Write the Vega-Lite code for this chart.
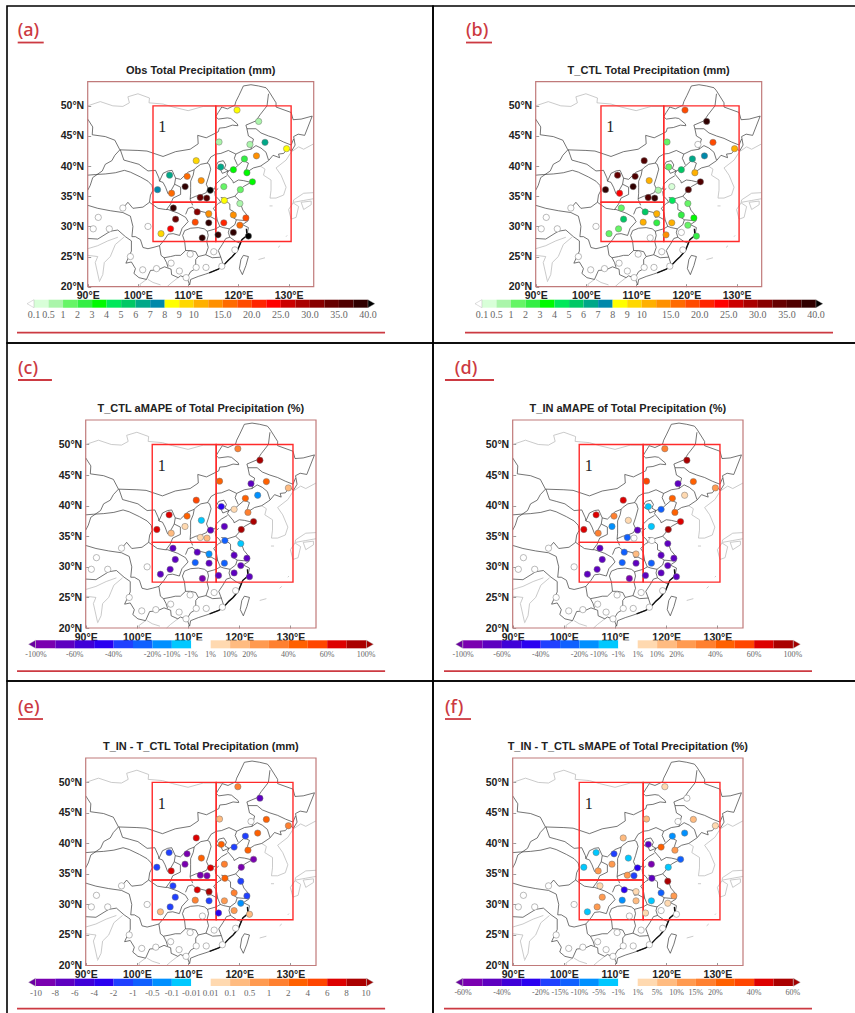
{"$schema":"https://vega.github.io/schema/vega-lite/v6.json","background":"white","padding":{"left":6,"top":5,"right":0,"bottom":0},"bounds":"flush","spacing":0,"columns":2,"resolve":{"scale":{"color":"independent","shape":"independent"}},
"datasets":{
"grey":[
{"g":1,"lon":90,"lat":50},{"g":1,"lon":92.5,"lat":50.7},{"g":1,"lon":95,"lat":50},{"g":1,"lon":97,"lat":49.9},{"g":1,"lon":98.3,"lat":50.5},{"g":1,"lon":98,"lat":51.5},{"g":1,"lon":100,"lat":52},{"g":1,"lon":102.3,"lat":51.3},{"g":1,"lon":102.2,"lat":50.5},{"g":1,"lon":105,"lat":50.3},{"g":1,"lon":107,"lat":49.8},{"g":1,"lon":110,"lat":49.2},{"g":1,"lon":113,"lat":49.9},{"g":1,"lon":115.5,"lat":49.9},{"g":1,"lon":116.7,"lat":49.8},
{"g":2,"lon":130.6,"lat":42.4},{"g":2,"lon":132,"lat":43.2},{"g":2,"lon":133,"lat":42.8},{"g":2,"lon":135,"lat":43.7},
{"g":3,"lon":124.4,"lat":40},{"g":3,"lon":125.3,"lat":39.5},{"g":3,"lon":125,"lat":38.5},{"g":3,"lon":126.5,"lat":37.7},{"g":3,"lon":126.5,"lat":36},{"g":3,"lon":126.3,"lat":34.7},{"g":3,"lon":127.5,"lat":34.7},{"g":3,"lon":129,"lat":35.2},{"g":3,"lon":129.5,"lat":36.5},{"g":3,"lon":128.5,"lat":38.5},{"g":3,"lon":127.5,"lat":39.7},{"g":3,"lon":129.5,"lat":41},{"g":3,"lon":130.5,"lat":42.3},
{"g":4,"lon":135,"lat":35.6},{"g":4,"lon":133,"lat":35.5},{"g":4,"lon":131,"lat":34.4},{"g":4,"lon":130.9,"lat":33.9},{"g":4,"lon":132,"lat":33.3},{"g":4,"lon":131.5,"lat":31.5},{"g":4,"lon":130.5,"lat":31.2},{"g":4,"lon":130,"lat":32.8},{"g":4,"lon":130.9,"lat":33.9},
{"g":5,"lon":132.5,"lat":34},{"g":5,"lon":134.5,"lat":34.2},{"g":5,"lon":134.5,"lat":33.6},{"g":5,"lon":133,"lat":32.8},{"g":5,"lon":132.5,"lat":34},
{"g":6,"lon":135,"lat":34.6},{"g":6,"lon":133,"lat":34.3},{"g":6,"lon":131,"lat":34},
{"g":7,"lon":127.9,"lat":26.5},{"g":7,"lon":128.3,"lat":26.8},
{"g":8,"lon":129.5,"lat":28.3},{"g":8,"lon":129.7,"lat":28.5},
{"g":9,"lon":124,"lat":24.5},{"g":9,"lon":125.3,"lat":24.8},
{"g":10,"lon":126.2,"lat":33.4},{"g":10,"lon":126.8,"lat":33.4},
{"g":11,"lon":105.8,"lat":20},{"g":11,"lon":106.6,"lat":20.6},{"g":11,"lon":108,"lat":21.5},
{"g":12,"lon":97.2,"lat":28.2},{"g":12,"lon":95.5,"lat":27},{"g":12,"lon":94.5,"lat":25},{"g":12,"lon":93.3,"lat":24},{"g":12,"lon":93,"lat":22},{"g":12,"lon":92.3,"lat":20.8},
{"g":13,"lon":90,"lat":26.3},{"g":13,"lon":92,"lat":26.8},{"g":13,"lon":94,"lat":27.6},{"g":13,"lon":96,"lat":28.2},
{"g":14,"lon":101.7,"lat":21.2},{"g":14,"lon":100.4,"lat":20.4},{"g":14,"lon":100.5,"lat":20},
{"g":15,"lon":104.5,"lat":20.3},{"g":15,"lon":103,"lat":20.7},{"g":15,"lon":102,"lat":21.2},
{"g":16,"lon":92.3,"lat":21},{"g":16,"lon":91.5,"lat":24},{"g":16,"lon":92,"lat":25},{"g":16,"lon":90,"lat":25.2}
],
"thick":[
{"g":1,"lon":121.6,"lat":29.6},{"g":1,"lon":121.7,"lat":28.5},{"g":1,"lon":120.7,"lat":27.8},{"g":1,"lon":119.8,"lat":26},{"g":1,"lon":118.8,"lat":25},{"g":1,"lon":118,"lat":24.4},{"g":1,"lon":117,"lat":23.5},{"g":1,"lon":116,"lat":22.9},{"g":1,"lon":114.2,"lat":22.3}
],
"prov":[
{"g":1,"lon":90,"lat":47.8},{"g":1,"lon":91,"lat":46.5},{"g":1,"lon":90.9,"lat":45.2},{"g":1,"lon":93.5,"lat":44.9},{"g":1,"lon":95.4,"lat":44.3},{"g":1,"lon":96.4,"lat":42.7},{"g":1,"lon":100,"lat":42.6},{"g":1,"lon":101.8,"lat":42.5},{"g":1,"lon":105,"lat":41.6},{"g":1,"lon":107.5,"lat":42.4},{"g":1,"lon":110.4,"lat":42.8},{"g":1,"lon":112,"lat":43.7},{"g":1,"lon":111.9,"lat":45.1},{"g":1,"lon":113.6,"lat":44.7},{"g":1,"lon":116,"lat":45.7},{"g":1,"lon":116.2,"lat":46.3},{"g":1,"lon":117.4,"lat":46.4},{"g":1,"lon":118.8,"lat":46.8},{"g":1,"lon":119.9,"lat":46.7},{"g":1,"lon":119.8,"lat":47},{"g":1,"lon":118.5,"lat":47.9},{"g":1,"lon":117.8,"lat":48},{"g":1,"lon":116,"lat":47.8},{"g":1,"lon":115.5,"lat":48.2},{"g":1,"lon":116,"lat":48.9},{"g":1,"lon":116.7,"lat":49.8},{"g":1,"lon":117.8,"lat":49.5},{"g":1,"lon":119.3,"lat":50.1},{"g":1,"lon":119.5,"lat":50.7},{"g":1,"lon":120.1,"lat":51.7},{"g":1,"lon":121,"lat":53.3},{"g":1,"lon":122.5,"lat":53.5},{"g":1,"lon":124,"lat":53.3},{"g":1,"lon":125.5,"lat":53},{"g":1,"lon":126,"lat":52.5},{"g":1,"lon":127.5,"lat":50.5},{"g":1,"lon":127.5,"lat":49.8},{"g":1,"lon":130.5,"lat":48.9},{"g":1,"lon":130.9,"lat":47.7},{"g":1,"lon":132.5,"lat":47.8},{"g":1,"lon":134.7,"lat":48.3},{"g":1,"lon":133.2,"lat":45.1},{"g":1,"lon":131.9,"lat":45.3},{"g":1,"lon":131,"lat":44.9},{"g":1,"lon":131.3,"lat":43.5},{"g":1,"lon":130.6,"lat":42.5},{"g":1,"lon":129.9,"lat":43},{"g":1,"lon":129,"lat":42.1},{"g":1,"lon":128,"lat":42},{"g":1,"lon":128.2,"lat":41.4},{"g":1,"lon":126.9,"lat":41.8},{"g":1,"lon":126,"lat":40.9},{"g":1,"lon":124.4,"lat":40},{"g":1,"lon":123,"lat":39.7},{"g":1,"lon":121.7,"lat":39},{"g":1,"lon":121.2,"lat":38.8},{"g":1,"lon":121.6,"lat":39.5},{"g":1,"lon":122,"lat":40.5},{"g":1,"lon":121,"lat":40.9},{"g":1,"lon":119.5,"lat":39.8},{"g":1,"lon":118,"lat":39.2},{"g":1,"lon":117.7,"lat":38.7},{"g":1,"lon":118.9,"lat":37.5},{"g":1,"lon":119,"lat":37.2},{"g":1,"lon":120,"lat":37.7},{"g":1,"lon":121,"lat":37.6},{"g":1,"lon":122.5,"lat":37.3},{"g":1,"lon":121,"lat":36.6},{"g":1,"lon":120.3,"lat":36},{"g":1,"lon":119.3,"lat":35},{"g":1,"lon":120.2,"lat":34.3},{"g":1,"lon":120.9,"lat":32.7},{"g":1,"lon":121.9,"lat":31.7},{"g":1,"lon":121.9,"lat":30.9},{"g":1,"lon":120.8,"lat":30.3},{"g":1,"lon":122,"lat":29.8},{"g":1,"lon":121.7,"lat":28.5},{"g":1,"lon":120.7,"lat":27.8},{"g":1,"lon":119.8,"lat":26},{"g":1,"lon":118.8,"lat":25},{"g":1,"lon":118,"lat":24.4},{"g":1,"lon":117,"lat":23.5},{"g":1,"lon":116,"lat":22.9},{"g":1,"lon":114.2,"lat":22.3},{"g":1,"lon":113.5,"lat":22.1},{"g":1,"lon":112,"lat":21.7},{"g":1,"lon":110.5,"lat":21.2},{"g":1,"lon":110.3,"lat":20.3},{"g":1,"lon":109.8,"lat":21.4},{"g":1,"lon":108.5,"lat":21.8},{"g":1,"lon":108,"lat":21.5},{"g":1,"lon":106.7,"lat":22},{"g":1,"lon":106.6,"lat":22.9},{"g":1,"lon":105.3,"lat":23.3},{"g":1,"lon":104,"lat":22.8},{"g":1,"lon":102.5,"lat":22.7},{"g":1,"lon":101.7,"lat":21.2},{"g":1,"lon":100.2,"lat":21.5},{"g":1,"lon":99.2,"lat":22.2},{"g":1,"lon":99.5,"lat":23},{"g":1,"lon":98.7,"lat":24.1},{"g":1,"lon":97.6,"lat":23.9},{"g":1,"lon":98.7,"lat":25.9},{"g":1,"lon":98.7,"lat":27.6},{"g":1,"lon":97.5,"lat":28.3},{"g":1,"lon":96,"lat":29.4},{"g":1,"lon":94.5,"lat":29.2},{"g":1,"lon":92,"lat":27.9},{"g":1,"lon":90,"lat":28},
{"g":2,"lon":96.4,"lat":42.7},{"g":2,"lon":95.4,"lat":41.8},{"g":2,"lon":94.8,"lat":40.9},{"g":2,"lon":93.5,"lat":40.3},{"g":2,"lon":92.9,"lat":39.2},{"g":2,"lon":91,"lat":38.1},{"g":2,"lon":90.5,"lat":36.8},{"g":2,"lon":90,"lat":36},
{"g":3,"lon":90,"lat":38.5},{"g":3,"lon":91.5,"lat":38.6},{"g":3,"lon":93.5,"lat":38.7},{"g":3,"lon":95.5,"lat":38.9},{"g":3,"lon":97.3,"lat":39.3},{"g":3,"lon":98.5,"lat":39},{"g":3,"lon":100.5,"lat":38.2},{"g":3,"lon":102,"lat":37.5},{"g":3,"lon":102.8,"lat":36.8},{"g":3,"lon":103,"lat":36},{"g":3,"lon":102.5,"lat":35.2},{"g":3,"lon":102.3,"lat":34},{"g":3,"lon":101,"lat":33.2},{"g":3,"lon":99,"lat":33},{"g":3,"lon":98,"lat":34},{"g":3,"lon":97,"lat":33},
{"g":4,"lon":90,"lat":33.5},{"g":4,"lon":92,"lat":33},{"g":4,"lon":94.5,"lat":32.6},{"g":4,"lon":97,"lat":32.3},{"g":4,"lon":98.5,"lat":31.7},{"g":4,"lon":99,"lat":30},{"g":4,"lon":98.8,"lat":28.3},{"g":4,"lon":99.5,"lat":28.3},{"g":4,"lon":100.5,"lat":27.8},{"g":4,"lon":101,"lat":26.5},{"g":4,"lon":102,"lat":26.3},{"g":4,"lon":103,"lat":26.5},{"g":4,"lon":104.3,"lat":26.8},{"g":4,"lon":105.3,"lat":27.8},{"g":4,"lon":106,"lat":28.7},{"g":4,"lon":107,"lat":28.8},{"g":4,"lon":108.3,"lat":28.5},{"g":4,"lon":108.8,"lat":29.7},{"g":4,"lon":110,"lat":30.8},{"g":4,"lon":109.5,"lat":31.5},{"g":4,"lon":108,"lat":32.2},{"g":4,"lon":106,"lat":32.8},{"g":4,"lon":105.5,"lat":32.8},{"g":4,"lon":104,"lat":33},{"g":4,"lon":102.3,"lat":34},
{"g":5,"lon":104.3,"lat":26.8},{"g":5,"lon":104.6,"lat":25.2},{"g":5,"lon":105.2,"lat":24.8},{"g":5,"lon":106.5,"lat":25},{"g":5,"lon":107.5,"lat":25.2},{"g":5,"lon":108.5,"lat":25.2},{"g":5,"lon":109.5,"lat":26},{"g":5,"lon":109.3,"lat":27.5},{"g":5,"lon":108.9,"lat":28.5},{"g":5,"lon":109.3,"lat":29.3},{"g":5,"lon":110.5,"lat":29.7},{"g":5,"lon":112,"lat":29.8},{"g":5,"lon":113.2,"lat":29.6},{"g":5,"lon":113.8,"lat":29.2},
{"g":6,"lon":109.5,"lat":26},{"g":6,"lon":110.5,"lat":26},{"g":6,"lon":111.5,"lat":25.8},{"g":6,"lon":112,"lat":25},{"g":6,"lon":111.5,"lat":24.5},{"g":6,"lon":111.5,"lat":23},{"g":6,"lon":110.5,"lat":22.5},{"g":6,"lon":109.8,"lat":21.5},
{"g":7,"lon":105.2,"lat":24.8},{"g":7,"lon":105.7,"lat":24},{"g":7,"lon":106,"lat":23.2},
{"g":8,"lon":112,"lat":25},{"g":8,"lon":113.5,"lat":25.3},{"g":8,"lon":114,"lat":26.5},{"g":8,"lon":113.7,"lat":27.5},{"g":8,"lon":114,"lat":28.5},{"g":8,"lon":113.8,"lat":29.2},{"g":8,"lon":115.5,"lat":29.6},{"g":8,"lon":116.3,"lat":30},{"g":8,"lon":115.8,"lat":31},{"g":8,"lon":114.5,"lat":31.6},{"g":8,"lon":113.8,"lat":31.5},{"g":8,"lon":113.5,"lat":32.3},{"g":8,"lon":111.5,"lat":32.7},{"g":8,"lon":110.8,"lat":33.2},{"g":8,"lon":110,"lat":33},{"g":8,"lon":109.5,"lat":32},
{"g":9,"lon":113.5,"lat":25.3},{"g":9,"lon":114.8,"lat":24.8},{"g":9,"lon":116.5,"lat":24.9},{"g":9,"lon":117,"lat":23.6},
{"g":10,"lon":116.5,"lat":24.9},{"g":10,"lon":116,"lat":26},{"g":10,"lon":116.8,"lat":27},{"g":10,"lon":117.5,"lat":28},{"g":10,"lon":118.3,"lat":28.2},{"g":10,"lon":119.5,"lat":27.5},{"g":10,"lon":120.4,"lat":27.2},
{"g":11,"lon":118.3,"lat":28.2},{"g":11,"lon":118,"lat":29},{"g":11,"lon":118.2,"lat":29.6},{"g":11,"lon":117,"lat":29.8},{"g":11,"lon":116.3,"lat":30},
{"g":12,"lon":118.2,"lat":29.6},{"g":12,"lon":119.3,"lat":30.3},{"g":12,"lon":119.6,"lat":31.1},{"g":12,"lon":120.9,"lat":31},{"g":12,"lon":121.3,"lat":31},
{"g":13,"lon":119.6,"lat":31.1},{"g":13,"lon":118.7,"lat":31.6},{"g":13,"lon":119,"lat":32.5},{"g":13,"lon":118.3,"lat":32.8},{"g":13,"lon":118.3,"lat":33.7},{"g":13,"lon":117,"lat":34.6},
{"g":14,"lon":115.8,"lat":31},{"g":14,"lon":115.5,"lat":32.4},{"g":14,"lon":115,"lat":33},{"g":14,"lon":116,"lat":33.8},{"g":14,"lon":116.5,"lat":34},{"g":14,"lon":116,"lat":34.6},{"g":14,"lon":115.4,"lat":35},{"g":14,"lon":115.3,"lat":35.8},{"g":14,"lon":116,"lat":36.3},
{"g":15,"lon":116.5,"lat":34.8},{"g":15,"lon":117.7,"lat":34.6},{"g":15,"lon":119.3,"lat":35},
{"g":16,"lon":110.9,"lat":33.5},{"g":16,"lon":110.4,"lat":34.5},{"g":16,"lon":110.5,"lat":35.5},{"g":16,"lon":110.5,"lat":36.5},{"g":16,"lon":110.5,"lat":37.5},{"g":16,"lon":111,"lat":38.5},{"g":16,"lon":111.2,"lat":39.4},{"g":16,"lon":111.5,"lat":39.7},{"g":16,"lon":112.5,"lat":40.3},{"g":16,"lon":113.8,"lat":40.5},{"g":16,"lon":114.2,"lat":40.3},{"g":16,"lon":114.5,"lat":39.5},{"g":16,"lon":114,"lat":38},{"g":16,"lon":113.6,"lat":37},{"g":16,"lon":114,"lat":36.3},{"g":16,"lon":113.6,"lat":35.6},{"g":16,"lon":112.5,"lat":35.2},{"g":16,"lon":111.5,"lat":35},{"g":16,"lon":110.4,"lat":34.6},
{"g":17,"lon":114,"lat":36.3},{"g":17,"lon":115.3,"lat":36.2},{"g":17,"lon":115.5,"lat":37},{"g":17,"lon":116.5,"lat":37.8},{"g":17,"lon":117.7,"lat":38.4},
{"g":18,"lon":113.8,"lat":40.5},{"g":18,"lon":114.5,"lat":41.5},{"g":18,"lon":115.5,"lat":42},{"g":18,"lon":116.5,"lat":42.1},{"g":18,"lon":118,"lat":42.6},{"g":18,"lon":119.5,"lat":42},{"g":18,"lon":119.2,"lat":41.3},{"g":18,"lon":119.8,"lat":40.2},
{"g":19,"lon":115.5,"lat":40},{"g":19,"lon":116,"lat":40.7},{"g":19,"lon":117,"lat":40.9},{"g":19,"lon":117.5,"lat":40.2},{"g":19,"lon":117.2,"lat":39.6},{"g":19,"lon":118,"lat":39.2},{"g":19,"lon":116.8,"lat":38.8},{"g":19,"lon":116.4,"lat":39.5},{"g":19,"lon":115.8,"lat":39.6},{"g":19,"lon":115.5,"lat":40},
{"g":20,"lon":119.5,"lat":42},{"g":20,"lon":121,"lat":42.6},{"g":20,"lon":122.5,"lat":42.8},{"g":20,"lon":123.5,"lat":43.4},{"g":20,"lon":124.5,"lat":43},{"g":20,"lon":125.5,"lat":42.3},{"g":20,"lon":126,"lat":41},
{"g":21,"lon":122.5,"lat":42.8},{"g":21,"lon":123,"lat":44.5},{"g":21,"lon":122,"lat":45},{"g":21,"lon":121.7,"lat":46.2},{"g":21,"lon":123.5,"lat":46.2},{"g":21,"lon":124.5,"lat":45.5},{"g":21,"lon":126,"lat":45},{"g":21,"lon":127.5,"lat":44.6},{"g":21,"lon":129,"lat":44},{"g":21,"lon":130.5,"lat":43.5},{"g":21,"lon":131,"lat":44.5},
{"g":22,"lon":121.7,"lat":46.2},{"g":22,"lon":121.5,"lat":46.8},{"g":22,"lon":123.5,"lat":47.5},{"g":22,"lon":124.3,"lat":48.5},{"g":22,"lon":125.7,"lat":50},{"g":22,"lon":126,"lat":52},
{"g":23,"lon":104.3,"lat":37.5},{"g":23,"lon":105,"lat":38.8},{"g":23,"lon":106,"lat":39.2},{"g":23,"lon":106.8,"lat":39.3},{"g":23,"lon":107.5,"lat":38},{"g":23,"lon":107.3,"lat":37},{"g":23,"lon":106.5,"lat":35.8},{"g":23,"lon":106,"lat":35.4},{"g":23,"lon":105.5,"lat":36.5},{"g":23,"lon":105,"lat":37.3},{"g":23,"lon":104.3,"lat":37.5},
{"g":24,"lon":96.5,"lat":42.7},{"g":24,"lon":97.2,"lat":41},{"g":24,"lon":98.5,"lat":40.7},{"g":24,"lon":100.2,"lat":40.3},{"g":24,"lon":102,"lat":39.2},{"g":24,"lon":103.5,"lat":39.3},{"g":24,"lon":104.2,"lat":38},{"g":24,"lon":104.3,"lat":37.5},
{"g":25,"lon":107.5,"lat":38},{"g":25,"lon":108.5,"lat":37.8},{"g":25,"lon":110,"lat":39},{"g":25,"lon":111.2,"lat":39.4},
{"g":26,"lon":107.3,"lat":37},{"g":26,"lon":108.5,"lat":36.5},{"g":26,"lon":108.5,"lat":35.3},{"g":26,"lon":107,"lat":34.7},{"g":26,"lon":106.5,"lat":33.7},{"g":26,"lon":105.7,"lat":32.8},
{"g":27,"lon":121,"lat":25.2},{"g":27,"lon":122,"lat":25},{"g":27,"lon":121.5,"lat":23.5},{"g":27,"lon":120.8,"lat":22},{"g":27,"lon":120.2,"lat":23},{"g":27,"lon":120.5,"lat":24.5},{"g":27,"lon":121,"lat":25.2}
],
"frame":[{"lon":90,"lon2":135,"lat":20,"lat2":54}],
"boxes":[{"lon":103,"lon2":115.5,"lat":34,"lat2":50},{"lon":115.5,"lon2":130.5,"lat":27.5,"lat2":50},{"lon":103,"lon2":115.5,"lat":27.5,"lat2":34}],
"one":[{"lon":104.85,"lat":46.5,"t":"1"}],
"stations":[
{"lon":92.1,"lat":31.5,"a":0,"b":0,"c":0,"d":0,"e":0,"f":0},{"lon":91.1,"lat":29.6,"a":0,"b":0,"c":0,"d":0,"e":0,"f":0},{"lon":94.3,"lat":29.6,"a":0,"b":0,"c":0,"d":0,"e":0,"f":0},{"lon":102,"lat":30,"a":0,"b":0,"c":0,"d":0,"e":0,"f":0},{"lon":97,"lat":33.05,"a":0,"b":0,"c":0,"d":0,"e":0,"f":0},{"lon":98.5,"lat":25,"a":0,"b":0,"c":0,"d":0,"e":0,"f":0},{"lon":100.95,"lat":22.8,"a":0,"b":0,"c":0,"d":0,"e":0,"f":0},{"lon":103.7,"lat":23,"a":0,"b":0,"c":0,"d":0,"e":0,"f":0},{"lon":106.6,"lat":23.9,"a":0,"b":0,"c":0,"d":0,"e":0,"f":0},{"lon":110.4,"lat":25.4,"a":0,"b":0,"c":0,"d":0,"e":0,"f":0},{"lon":108.25,"lat":22.6,"a":0,"b":0,"c":0,"d":0,"e":0,"f":0},{"lon":111.6,"lat":23.2,"a":0,"b":0,"c":0,"d":0,"e":0,"f":0},{"lon":113.55,"lat":23.2,"a":0,"b":0,"c":0,"d":0,"e":0,"f":0},{"lon":115.1,"lat":25.8,"a":0,"b":0,"c":0,"d":0,"e":0,"f":0},{"lon":116.7,"lat":23.4,"a":0,"b":0,"c":0,"d":0,"e":0,"f":0},{"lon":119.3,"lat":26.1,"a":0,"b":0,"c":0,"d":0,"e":0,"f":0},{"lon":109.6,"lat":21.5,"a":0,"b":0,"c":0,"d":0,"e":0,"f":0},
{"lon":119.73,"lat":49.3,"a":8.5,"b":19,"c":35,"d":35,"e":1.5,"f":3},
{"lon":124.04,"lat":47.42,"a":0.7,"b":38,"c":90,"d":90,"e":-7,"f":0},
{"lon":125.3,"lat":43.94,"a":6.5,"b":18,"c":45,"d":45,"e":3,"f":7},
{"lon":122.3,"lat":43.6,"a":0.7,"b":0,"c":-70,"d":-70,"e":0,"f":0},
{"lon":116.15,"lat":44,"a":0.7,"b":1.5,"c":45,"d":55,"e":0.3,"f":7},
{"lon":129.6,"lat":42.9,"a":8.5,"b":11,"c":15,"d":25,"e":1.5,"f":3},
{"lon":123.6,"lat":41.7,"a":14,"b":7.5,"c":-15,"d":5,"e":3,"f":-7.5},
{"lon":121.2,"lat":41.2,"a":2.5,"b":6.5,"c":45,"d":45,"e":-1.5,"f":-7.5},
{"lon":116.5,"lat":39.85,"a":6.5,"b":1.5,"c":-45,"d":-5,"e":3,"f":-45},
{"lon":119,"lat":39.4,"a":3.5,"b":5.5,"c":5,"d":-25,"e":-1.5,"f":25},
{"lon":121.7,"lat":38.9,"a":3.5,"b":11,"c":35,"d":45,"e":3,"f":12},
{"lon":122.8,"lat":37.4,"a":3.5,"b":36,"c":90,"d":70,"e":-9,"f":-12},
{"lon":117.1,"lat":36.6,"a":1.5,"b":0.3,"c":-70,"d":-5,"e":1.5,"f":-55},
{"lon":120.4,"lat":36.1,"a":1.5,"b":36,"c":90,"d":90,"e":-9,"f":-3},
{"lon":114.4,"lat":36,"a":41,"b":0.8,"c":-70,"d":-70,"e":7,"f":-25},
{"lon":111.6,"lat":40.9,"a":9.5,"b":35,"c":55,"d":70,"e":7,"f":7},
{"lon":109.8,"lat":38.3,"a":16,"b":36,"c":45,"d":35,"e":-9,"f":-18},
{"lon":106.3,"lat":38.5,"a":6.5,"b":34,"c":70,"d":70,"e":-1.5,"f":-3},
{"lon":103.9,"lat":36.1,"a":7.5,"b":38,"c":70,"d":70,"e":-1.5,"f":-3},
{"lon":106.7,"lat":35.5,"a":16,"b":23,"c":15,"d":35,"e":7,"f":12},
{"lon":109.4,"lat":36.6,"a":38,"b":38,"c":5,"d":-15,"e":-9,"f":12},
{"lon":112.6,"lat":37.6,"a":13,"b":11,"c":-5,"d":5,"e":3,"f":-3},
{"lon":112.4,"lat":34.8,"a":34,"b":36,"c":5,"d":-25,"e":-9,"f":12},
{"lon":113.7,"lat":34.7,"a":36,"b":38,"c":15,"d":0,"e":-9,"f":-18},
{"lon":117.2,"lat":34.3,"a":8.5,"b":4.5,"c":-25,"d":0,"e":3,"f":-45},
{"lon":120.3,"lat":33.8,"a":0.8,"b":1.5,"c":-5,"d":-70,"e":-1.5,"f":55},
{"lon":107.05,"lat":33.05,"a":38,"b":1.5,"c":-70,"d":-70,"e":-1.5,"f":3},
{"lon":111.8,"lat":32.4,"a":31,"b":5.5,"c":-70,"d":-25,"e":7,"f":-25},
{"lon":114.1,"lat":32.1,"a":14,"b":11,"c":-15,"d":15,"e":9,"f":3},
{"lon":119,"lat":31.9,"a":13,"b":2.5,"c":-70,"d":-70,"e":1.5,"f":-12},
{"lon":121.5,"lat":31.4,"a":19,"b":3,"c":-70,"d":-70,"e":-1.5,"f":12},
{"lon":107.5,"lat":31.2,"a":33,"b":5,"c":-70,"d":-70,"e":-1.5,"f":12},
{"lon":111.4,"lat":30.7,"a":18,"b":11,"c":-25,"d":-25,"e":1.5,"f":-7.5},
{"lon":114.1,"lat":30.6,"a":38,"b":2.5,"c":-70,"d":-70,"e":-1.5,"f":7},
{"lon":117.1,"lat":30.6,"a":22,"b":11,"c":-25,"d":-25,"e":0.7,"f":-3},
{"lon":120.3,"lat":30.2,"a":17,"b":1.5,"c":-70,"d":-70,"e":-0.3,"f":3},
{"lon":106.5,"lat":29.6,"a":23,"b":1.5,"c":-70,"d":-70,"e":-1.5,"f":12},
{"lon":104.6,"lat":28.8,"a":9.5,"b":1.5,"c":-70,"d":-70,"e":0.3,"f":-3},
{"lon":119,"lat":29,"a":39,"b":0,"c":-70,"d":-70,"e":0.7,"f":0},
{"lon":115.95,"lat":28.6,"a":39,"b":13,"c":-70,"d":-70,"e":-3,"f":3},
{"lon":112.8,"lat":28.1,"a":39,"b":0,"c":-90,"d":-90,"e":0,"f":0},
{"lon":122,"lat":28.4,"a":41,"b":2.5,"c":-70,"d":-70,"e":0.3,"f":0}
],
"barA":[{"i":0,"i2":1,"lo":0.1,"label":"0.1"},{"i":1,"i2":2,"lo":0.5,"label":"0.5"},{"i":2,"i2":3,"lo":1,"label":"1"},{"i":3,"i2":4,"lo":2,"label":"2"},{"i":4,"i2":5,"lo":3,"label":"3"},{"i":5,"i2":6,"lo":4,"label":"4"},{"i":6,"i2":7,"lo":5,"label":"5"},{"i":7,"i2":8,"lo":6,"label":"6"},{"i":8,"i2":9,"lo":7,"label":"7"},{"i":9,"i2":10,"lo":8,"label":"8"},{"i":10,"i2":11,"lo":9,"label":"9"},{"i":11,"i2":12,"lo":10,"label":"10"},{"i":12,"i2":13,"lo":12.5,"label":""},{"i":13,"i2":14,"lo":15,"label":"15.0"},{"i":14,"i2":15,"lo":17.5,"label":""},{"i":15,"i2":16,"lo":20,"label":"20.0"},{"i":16,"i2":17,"lo":22.5,"label":""},{"i":17,"i2":18,"lo":25,"label":"25.0"},{"i":18,"i2":19,"lo":27.5,"label":""},{"i":19,"i2":20,"lo":30,"label":"30.0"},{"i":20,"i2":21,"lo":32.5,"label":""},{"i":21,"i2":22,"lo":35,"label":"35.0"},{"i":22,"i2":23,"lo":37.5,"label":""},{"i":23,"i2":23,"lo":40,"label":"40.0"}],
"arrA":[{"i":-0.24,"lo":0,"s":"l"},{"i":23.24,"lo":41,"s":"r"}],
"barC":[{"i":0,"i2":1,"lo":-100,"label":"-100%"},{"i":1,"i2":2,"lo":-80,"label":""},{"i":2,"i2":3,"lo":-60,"label":"-60%"},{"i":3,"i2":4,"lo":-50,"label":""},{"i":4,"i2":5,"lo":-40,"label":"-40%"},{"i":5,"i2":6,"lo":-30,"label":""},{"i":6,"i2":7,"lo":-20,"label":"-20%"},{"i":7,"i2":8,"lo":-10,"label":"-10%"},{"i":8,"i2":9,"lo":-1,"label":"-1%"},{"i":9,"i2":10,"lo":1,"label":"1%"},{"i":10,"i2":11,"lo":10,"label":"10%"},{"i":11,"i2":12,"lo":20,"label":"20%"},{"i":12,"i2":13,"lo":30,"label":""},{"i":13,"i2":14,"lo":40,"label":"40%"},{"i":14,"i2":15,"lo":50,"label":""},{"i":15,"i2":16,"lo":60,"label":"60%"},{"i":16,"i2":17,"lo":80,"label":""},{"i":17,"i2":17,"lo":100,"label":"100%"}],
"arrC":[{"i":-0.2,"lo":-101,"s":"l"},{"i":17.2,"lo":101,"s":"r"}],
"barE":[{"i":0,"i2":1,"lo":-10,"label":"-10"},{"i":1,"i2":2,"lo":-8,"label":"-8"},{"i":2,"i2":3,"lo":-6,"label":"-6"},{"i":3,"i2":4,"lo":-4,"label":"-4"},{"i":4,"i2":5,"lo":-2,"label":"-2"},{"i":5,"i2":6,"lo":-1,"label":"-1"},{"i":6,"i2":7,"lo":-0.5,"label":"-0.5"},{"i":7,"i2":8,"lo":-0.1,"label":"-0.1"},{"i":8,"i2":9,"lo":-0.01,"label":"-0.01"},{"i":9,"i2":10,"lo":0.01,"label":"0.01"},{"i":10,"i2":11,"lo":0.1,"label":"0.1"},{"i":11,"i2":12,"lo":0.5,"label":"0.5"},{"i":12,"i2":13,"lo":1,"label":"1"},{"i":13,"i2":14,"lo":2,"label":"2"},{"i":14,"i2":15,"lo":4,"label":"4"},{"i":15,"i2":16,"lo":6,"label":"6"},{"i":16,"i2":17,"lo":8,"label":"8"},{"i":17,"i2":17,"lo":10,"label":"10"}],
"arrE":[{"i":-0.2,"lo":-11,"s":"l"},{"i":17.2,"lo":11,"s":"r"}],
"barF":[{"i":0,"i2":1,"lo":-60,"label":"-60%"},{"i":1,"i2":2,"lo":-50,"label":""},{"i":2,"i2":3,"lo":-40,"label":"-40%"},{"i":3,"i2":4,"lo":-30,"label":""},{"i":4,"i2":5,"lo":-20,"label":"-20%"},{"i":5,"i2":6,"lo":-15,"label":"-15%"},{"i":6,"i2":7,"lo":-10,"label":"-10%"},{"i":7,"i2":8,"lo":-5,"label":"-5%"},{"i":8,"i2":9,"lo":-1,"label":"-1%"},{"i":9,"i2":10,"lo":1,"label":"1%"},{"i":10,"i2":11,"lo":5,"label":"5%"},{"i":11,"i2":12,"lo":10,"label":"10%"},{"i":12,"i2":13,"lo":15,"label":"15%"},{"i":13,"i2":14,"lo":20,"label":"20%"},{"i":14,"i2":15,"lo":30,"label":""},{"i":15,"i2":16,"lo":40,"label":"40%"},{"i":16,"i2":17,"lo":50,"label":""},{"i":17,"i2":17,"lo":60,"label":"60%"}],
"arrF":[{"i":-0.2,"lo":-61,"s":"l"},{"i":17.2,"lo":61,"s":"r"}]
},
"concat":[
{"width":426,"height":337,"view":{"stroke":"#000","strokeWidth":1.6},"resolve":{"scale":{"x":"independent","y":"independent"}},"layer":[
{"encoding":{"x":{"field":"lon","type":"quantitative","scale":{"domain":[73.93,158.75],"nice":false,"zero":false},"axis":{"title":null,"values":[90,100,110,120,130],"labelExpr":"datum.value+'°E'","grid":false,"domain":false,"offset":-56.3,"tickSize":-3,"tickColor":"#999","labelFont":"Liberation Sans","labelFontWeight":"bold","labelFontSize":10.5,"labelColor":"#222","labelPadding":7}},"y":{"field":"lat","type":"quantitative","scale":{"domain":[10.66,66.56],"nice":false,"zero":false},"axis":{"title":null,"values":[20,25,30,35,40,45,50],"labelExpr":"datum.value+'°N'","grid":false,"domain":false,"offset":-80.7,"tickSize":-3,"tickColor":"#999","labelFont":"Liberation Sans","labelFontWeight":"bold","labelFontSize":10.5,"labelColor":"#222","labelPadding":7}}},"layer":[
{"data":{"name":"grey"},"mark":{"type":"line","order":false,"stroke":"#bdbdbd","strokeWidth":0.8},"encoding":{"detail":{"field":"g"}}},
{"data":{"name":"prov"},"mark":{"type":"line","order":false,"stroke":"#3a3a3a","strokeWidth":0.7},"encoding":{"detail":{"field":"g"}}},
{"data":{"name":"thick"},"mark":{"type":"line","order":false,"stroke":"#111","strokeWidth":1.4},"encoding":{"detail":{"field":"g"}}},
{"data":{"name":"frame"},"mark":{"type":"rect","fill":null,"stroke":"#c07a7a","strokeWidth":1.2},"encoding":{"x2":{"field":"lon2"},"y2":{"field":"lat2"}}},
{"data":{"name":"boxes"},"mark":{"type":"rect","fill":null,"stroke":"#ff2a2a","strokeWidth":1.4},"encoding":{"x2":{"field":"lon2"},"y2":{"field":"lat2"}}},
{"data":{"name":"stations"},"mark":{"type":"circle","size":40,"opacity":1,"stroke":"#777","strokeWidth":0.5},"encoding":{"color":{"field":"a","type":"quantitative","legend":null,"scale":{"type":"threshold","domain":[0.1,0.5,1,2,3,4,5,6,7,8,9,10,12.5,15,17.5,20,22.5,25,27.5,30,32.5,35,37.5,40],"range":["#ffffff","#d8ffd8","#aaf5aa","#66f566","#33ee44","#00fa00","#00e85a","#00c864","#00a888","#0088aa","#ffff00","#ffd800","#ffb000","#ff9000","#ff6a00","#ff4a00","#ff2400","#ff0000","#cc0000","#aa0000","#880000","#660000","#500000","#300000","#000000"]}}}},
{"data":{"name":"one"},"mark":{"type":"text","font":"Liberation Serif","fontSize":16,"color":"#222"},"encoding":{"text":{"field":"t"}}},
{"data":{"values":[{"lon":112.5,"lat":55.83,"t":"Obs Total Precipitation (mm)"}]},"mark":{"type":"text","font":"Liberation Sans","fontWeight":"bold","fontSize":11,"color":"#222"},"encoding":{"text":{"field":"t"}}},
{"data":{"values":[{"lon":76.06,"lat":62.41,"t":"(a)"}]},"mark":{"type":"text","align":"left","font":"Noto Sans","fontWeight":500,"fontSize":18,"color":"#cc3a42"},"encoding":{"text":{"field":"t"}}},
{"data":{"values":[{"lon":76.06,"lon2":81.24,"lat":60.5},{"lon":75.92,"lon2":149.2,"lat":12.37}]},"mark":{"type":"rule","stroke":"#cc3a42","strokeWidth":1.8},"encoding":{"x2":{"field":"lon2"}}}
]},
{"encoding":{"x":{"field":"i","type":"quantitative","scale":{"domain":[-1.86,27.48],"nice":false,"zero":false},"axis":null}},"layer":[
{"data":{"name":"barA"},"mark":{"type":"rect"},"encoding":{"x2":{"field":"i2"},"y":{"datum":17.84,"type":"quantitative","axis":null,"scale":{"domain":[10.66,66.56],"nice":false,"zero":false}},"y2":{"datum":16.52},"color":{"field":"lo","type":"quantitative","legend":null,"scale":{"type":"threshold","domain":[0.1,0.5,1,2,3,4,5,6,7,8,9,10,12.5,15,17.5,20,22.5,25,27.5,30,32.5,35,37.5,40],"range":["#ffffff","#d8ffd8","#aaf5aa","#66f566","#33ee44","#00fa00","#00e85a","#00c864","#00a888","#0088aa","#ffff00","#ffd800","#ffb000","#ff9000","#ff6a00","#ff4a00","#ff2400","#ff0000","#cc0000","#aa0000","#880000","#660000","#500000","#300000","#000000"]}}}},
{"data":{"name":"arrA"},"mark":{"type":"point","filled":true,"size":64,"opacity":1,"stroke":"#aaa","strokeWidth":0.4},"encoding":{"y":{"datum":17.18,"type":"quantitative","axis":null,"scale":{"domain":[10.66,66.56],"nice":false,"zero":false}},"shape":{"field":"s","type":"nominal","legend":null,"scale":{"domain":["l","r"],"range":["triangle-left","triangle-right"]}},"color":{"field":"lo","type":"quantitative","legend":null,"scale":{"type":"threshold","domain":[0.1,0.5,1,2,3,4,5,6,7,8,9,10,12.5,15,17.5,20,22.5,25,27.5,30,32.5,35,37.5,40],"range":["#ffffff","#d8ffd8","#aaf5aa","#66f566","#33ee44","#00fa00","#00e85a","#00c864","#00a888","#0088aa","#ffff00","#ffd800","#ffb000","#ff9000","#ff6a00","#ff4a00","#ff2400","#ff0000","#cc0000","#aa0000","#880000","#660000","#500000","#300000","#000000"]}}}},
{"data":{"name":"barA"},"mark":{"type":"text","font":"Liberation Serif","fontSize":10,"color":"#666"},"encoding":{"y":{"datum":15.3,"type":"quantitative","axis":null,"scale":{"domain":[10.66,66.56],"nice":false,"zero":false}},"text":{"field":"label"}}}
]}
]},
{"width":423,"height":337,"view":{"stroke":"#000","strokeWidth":1.6},"resolve":{"scale":{"x":"independent","y":"independent"}},"layer":[
{"encoding":{"x":{"field":"lon","type":"quantitative","scale":{"domain":[69.55,153.78],"nice":false,"zero":false},"axis":{"title":null,"values":[90,100,110,120,130],"labelExpr":"datum.value+'°E'","grid":false,"domain":false,"offset":-56.3,"tickSize":-3,"tickColor":"#999","labelFont":"Liberation Sans","labelFontWeight":"bold","labelFontSize":10.5,"labelColor":"#222","labelPadding":7}},"y":{"field":"lat","type":"quantitative","scale":{"domain":[10.66,66.56],"nice":false,"zero":false},"axis":{"title":null,"values":[20,25,30,35,40,45,50],"labelExpr":"datum.value+'°N'","grid":false,"domain":false,"offset":-102.7,"tickSize":-3,"tickColor":"#999","labelFont":"Liberation Sans","labelFontWeight":"bold","labelFontSize":10.5,"labelColor":"#222","labelPadding":7}}},"layer":[
{"data":{"name":"grey"},"mark":{"type":"line","order":false,"stroke":"#bdbdbd","strokeWidth":0.8},"encoding":{"detail":{"field":"g"}}},
{"data":{"name":"prov"},"mark":{"type":"line","order":false,"stroke":"#3a3a3a","strokeWidth":0.7},"encoding":{"detail":{"field":"g"}}},
{"data":{"name":"thick"},"mark":{"type":"line","order":false,"stroke":"#111","strokeWidth":1.4},"encoding":{"detail":{"field":"g"}}},
{"data":{"name":"frame"},"mark":{"type":"rect","fill":null,"stroke":"#c07a7a","strokeWidth":1.2},"encoding":{"x2":{"field":"lon2"},"y2":{"field":"lat2"}}},
{"data":{"name":"boxes"},"mark":{"type":"rect","fill":null,"stroke":"#ff2a2a","strokeWidth":1.4},"encoding":{"x2":{"field":"lon2"},"y2":{"field":"lat2"}}},
{"data":{"name":"stations"},"mark":{"type":"circle","size":40,"opacity":1,"stroke":"#777","strokeWidth":0.5},"encoding":{"color":{"field":"b","type":"quantitative","legend":null,"scale":{"type":"threshold","domain":[0.1,0.5,1,2,3,4,5,6,7,8,9,10,12.5,15,17.5,20,22.5,25,27.5,30,32.5,35,37.5,40],"range":["#ffffff","#d8ffd8","#aaf5aa","#66f566","#33ee44","#00fa00","#00e85a","#00c864","#00a888","#0088aa","#ffff00","#ffd800","#ffb000","#ff9000","#ff6a00","#ff4a00","#ff2400","#ff0000","#cc0000","#aa0000","#880000","#660000","#500000","#300000","#000000"]}}}},
{"data":{"name":"one"},"mark":{"type":"text","font":"Liberation Serif","fontSize":16,"color":"#222"},"encoding":{"text":{"field":"t"}}},
{"data":{"values":[{"lon":112.5,"lat":55.83,"t":"T_CTL Total Precipitation (mm)"}]},"mark":{"type":"text","font":"Liberation Sans","fontWeight":"bold","fontSize":11,"color":"#222"},"encoding":{"text":{"field":"t"}}},
{"data":{"values":[{"lon":76.12,"lat":62.41,"t":"(b)"}]},"mark":{"type":"text","align":"left","font":"Noto Sans","fontWeight":500,"fontSize":18,"color":"#cc3a42"},"encoding":{"text":{"field":"t"}}},
{"data":{"values":[{"lon":76.12,"lon2":81.3,"lat":60.5},{"lon":75.92,"lon2":149.2,"lat":12.37}]},"mark":{"type":"rule","stroke":"#cc3a42","strokeWidth":1.8},"encoding":{"x2":{"field":"lon2"}}}
]},
{"encoding":{"x":{"field":"i","type":"quantitative","scale":{"domain":[-3.37,25.76],"nice":false,"zero":false},"axis":null}},"layer":[
{"data":{"name":"barA"},"mark":{"type":"rect"},"encoding":{"x2":{"field":"i2"},"y":{"datum":17.84,"type":"quantitative","axis":null,"scale":{"domain":[10.66,66.56],"nice":false,"zero":false}},"y2":{"datum":16.52},"color":{"field":"lo","type":"quantitative","legend":null,"scale":{"type":"threshold","domain":[0.1,0.5,1,2,3,4,5,6,7,8,9,10,12.5,15,17.5,20,22.5,25,27.5,30,32.5,35,37.5,40],"range":["#ffffff","#d8ffd8","#aaf5aa","#66f566","#33ee44","#00fa00","#00e85a","#00c864","#00a888","#0088aa","#ffff00","#ffd800","#ffb000","#ff9000","#ff6a00","#ff4a00","#ff2400","#ff0000","#cc0000","#aa0000","#880000","#660000","#500000","#300000","#000000"]}}}},
{"data":{"name":"arrA"},"mark":{"type":"point","filled":true,"size":64,"opacity":1,"stroke":"#aaa","strokeWidth":0.4},"encoding":{"y":{"datum":17.18,"type":"quantitative","axis":null,"scale":{"domain":[10.66,66.56],"nice":false,"zero":false}},"shape":{"field":"s","type":"nominal","legend":null,"scale":{"domain":["l","r"],"range":["triangle-left","triangle-right"]}},"color":{"field":"lo","type":"quantitative","legend":null,"scale":{"type":"threshold","domain":[0.1,0.5,1,2,3,4,5,6,7,8,9,10,12.5,15,17.5,20,22.5,25,27.5,30,32.5,35,37.5,40],"range":["#ffffff","#d8ffd8","#aaf5aa","#66f566","#33ee44","#00fa00","#00e85a","#00c864","#00a888","#0088aa","#ffff00","#ffd800","#ffb000","#ff9000","#ff6a00","#ff4a00","#ff2400","#ff0000","#cc0000","#aa0000","#880000","#660000","#500000","#300000","#000000"]}}}},
{"data":{"name":"barA"},"mark":{"type":"text","font":"Liberation Serif","fontSize":10,"color":"#666"},"encoding":{"y":{"datum":15.3,"type":"quantitative","axis":null,"scale":{"domain":[10.66,66.56],"nice":false,"zero":false}},"text":{"field":"label"}}}
]}
]},
{"width":426,"height":338,"view":{"stroke":"#000","strokeWidth":1.6},"resolve":{"scale":{"x":"independent","y":"independent"}},"layer":[
{"encoding":{"x":{"field":"lon","type":"quantitative","scale":{"domain":[74.62,157.86],"nice":false,"zero":false},"axis":{"title":null,"values":[90,100,110,120,130],"labelExpr":"datum.value+'°E'","grid":false,"domain":false,"offset":-53,"tickSize":-3,"tickColor":"#999","labelFont":"Liberation Sans","labelFontWeight":"bold","labelFontSize":10.5,"labelColor":"#222","labelPadding":7}},"y":{"field":"lat","type":"quantitative","scale":{"domain":[11.34,66.59],"nice":false,"zero":false},"axis":{"title":null,"values":[20,25,30,35,40,45,50],"labelExpr":"datum.value+'°N'","grid":false,"domain":false,"offset":-78.7,"tickSize":-3,"tickColor":"#999","labelFont":"Liberation Sans","labelFontWeight":"bold","labelFontSize":10.5,"labelColor":"#222","labelPadding":7}}},"layer":[
{"data":{"name":"grey"},"mark":{"type":"line","order":false,"stroke":"#bdbdbd","strokeWidth":0.8},"encoding":{"detail":{"field":"g"}}},
{"data":{"name":"prov"},"mark":{"type":"line","order":false,"stroke":"#3a3a3a","strokeWidth":0.7},"encoding":{"detail":{"field":"g"}}},
{"data":{"name":"thick"},"mark":{"type":"line","order":false,"stroke":"#111","strokeWidth":1.4},"encoding":{"detail":{"field":"g"}}},
{"data":{"name":"frame"},"mark":{"type":"rect","fill":null,"stroke":"#c07a7a","strokeWidth":1.2},"encoding":{"x2":{"field":"lon2"},"y2":{"field":"lat2"}}},
{"data":{"name":"boxes"},"mark":{"type":"rect","fill":null,"stroke":"#ff2a2a","strokeWidth":1.4},"encoding":{"x2":{"field":"lon2"},"y2":{"field":"lat2"}}},
{"data":{"name":"stations"},"mark":{"type":"circle","size":40,"opacity":1,"stroke":"#777","strokeWidth":0.5},"encoding":{"color":{"field":"c","type":"quantitative","legend":null,"scale":{"type":"threshold","domain":[-100,-80,-60,-50,-40,-30,-20,-10,-1,1,10,20,30,40,50,60,80,100],"range":["#6a00a0","#7a00b0","#5e00c0","#4000d8","#2a00f0","#2040ff","#1060ff","#0090ff","#00c8ff","#ffffff","#ffd9b0","#ffbb80","#ff9a50","#ff8030","#ff6000","#ff4500","#dd0000","#aa0000","#a00000"]}}}},
{"data":{"name":"one"},"mark":{"type":"text","font":"Liberation Serif","fontSize":16,"color":"#222"},"encoding":{"text":{"field":"t"}}},
{"data":{"values":[{"lon":112.5,"lat":55.8,"t":"T_CTL aMAPE of Total Precipitation (%)"}]},"mark":{"type":"text","font":"Liberation Sans","fontWeight":"bold","fontSize":11,"color":"#222"},"encoding":{"text":{"field":"t"}}},
{"data":{"values":[{"lon":76.77,"lat":62.33,"t":"(c)"}]},"mark":{"type":"text","align":"left","font":"Noto Sans","fontWeight":500,"fontSize":18,"color":"#cc3a42"},"encoding":{"text":{"field":"t"}}},
{"data":{"values":[{"lon":76.77,"lon2":83.4,"lat":60.54},{"lon":76.58,"lon2":148.5,"lat":12.97}]},"mark":{"type":"rule","stroke":"#cc3a42","strokeWidth":1.8},"encoding":{"x2":{"field":"lon2"}}}
]},
{"encoding":{"x":{"field":"i","type":"quantitative","scale":{"domain":[-1.49,20.45],"nice":false,"zero":false},"axis":null}},"layer":[
{"data":{"name":"barC"},"mark":{"type":"rect"},"encoding":{"x2":{"field":"i2"},"y":{"datum":17.99,"type":"quantitative","axis":null,"scale":{"domain":[11.34,66.59],"nice":false,"zero":false}},"y2":{"datum":16.68},"color":{"field":"lo","type":"quantitative","legend":null,"scale":{"type":"threshold","domain":[-100,-80,-60,-50,-40,-30,-20,-10,-1,1,10,20,30,40,50,60,80,100],"range":["#6a00a0","#7a00b0","#5e00c0","#4000d8","#2a00f0","#2040ff","#1060ff","#0090ff","#00c8ff","#ffffff","#ffd9b0","#ffbb80","#ff9a50","#ff8030","#ff6000","#ff4500","#dd0000","#aa0000","#a00000"]}}}},
{"data":{"name":"arrC"},"mark":{"type":"point","filled":true,"size":64,"opacity":1,"stroke":"#aaa","strokeWidth":0.4},"encoding":{"y":{"datum":17.34,"type":"quantitative","axis":null,"scale":{"domain":[11.34,66.59],"nice":false,"zero":false}},"shape":{"field":"s","type":"nominal","legend":null,"scale":{"domain":["l","r"],"range":["triangle-left","triangle-right"]}},"color":{"field":"lo","type":"quantitative","legend":null,"scale":{"type":"threshold","domain":[-100,-80,-60,-50,-40,-30,-20,-10,-1,1,10,20,30,40,50,60,80,100],"range":["#6a00a0","#7a00b0","#5e00c0","#4000d8","#2a00f0","#2040ff","#1060ff","#0090ff","#00c8ff","#ffffff","#ffd9b0","#ffbb80","#ff9a50","#ff8030","#ff6000","#ff4500","#dd0000","#aa0000","#a00000"]}}}},
{"data":{"name":"barC"},"mark":{"type":"text","font":"Liberation Serif","fontSize":8,"color":"#666"},"encoding":{"y":{"datum":15.59,"type":"quantitative","axis":null,"scale":{"domain":[11.34,66.59],"nice":false,"zero":false}},"text":{"field":"label"}}}
]}
]},
{"width":423,"height":338,"view":{"stroke":"#000","strokeWidth":1.6},"resolve":{"scale":{"x":"independent","y":"independent"}},"layer":[
{"encoding":{"x":{"field":"lon","type":"quantitative","scale":{"domain":[74.43,157.08],"nice":false,"zero":false},"axis":{"title":null,"values":[90,100,110,120,130],"labelExpr":"datum.value+'°E'","grid":false,"domain":false,"offset":-53,"tickSize":-3,"tickColor":"#999","labelFont":"Liberation Sans","labelFontWeight":"bold","labelFontSize":10.5,"labelColor":"#222","labelPadding":7}},"y":{"field":"lat","type":"quantitative","scale":{"domain":[11.34,66.59],"nice":false,"zero":false},"axis":{"title":null,"values":[20,25,30,35,40,45,50],"labelExpr":"datum.value+'°N'","grid":false,"domain":false,"offset":-79.7,"tickSize":-3,"tickColor":"#999","labelFont":"Liberation Sans","labelFontWeight":"bold","labelFontSize":10.5,"labelColor":"#222","labelPadding":7}}},"layer":[
{"data":{"name":"grey"},"mark":{"type":"line","order":false,"stroke":"#bdbdbd","strokeWidth":0.8},"encoding":{"detail":{"field":"g"}}},
{"data":{"name":"prov"},"mark":{"type":"line","order":false,"stroke":"#3a3a3a","strokeWidth":0.7},"encoding":{"detail":{"field":"g"}}},
{"data":{"name":"thick"},"mark":{"type":"line","order":false,"stroke":"#111","strokeWidth":1.4},"encoding":{"detail":{"field":"g"}}},
{"data":{"name":"frame"},"mark":{"type":"rect","fill":null,"stroke":"#c07a7a","strokeWidth":1.2},"encoding":{"x2":{"field":"lon2"},"y2":{"field":"lat2"}}},
{"data":{"name":"boxes"},"mark":{"type":"rect","fill":null,"stroke":"#ff2a2a","strokeWidth":1.4},"encoding":{"x2":{"field":"lon2"},"y2":{"field":"lat2"}}},
{"data":{"name":"stations"},"mark":{"type":"circle","size":40,"opacity":1,"stroke":"#777","strokeWidth":0.5},"encoding":{"color":{"field":"d","type":"quantitative","legend":null,"scale":{"type":"threshold","domain":[-100,-80,-60,-50,-40,-30,-20,-10,-1,1,10,20,30,40,50,60,80,100],"range":["#6a00a0","#7a00b0","#5e00c0","#4000d8","#2a00f0","#2040ff","#1060ff","#0090ff","#00c8ff","#ffffff","#ffd9b0","#ffbb80","#ff9a50","#ff8030","#ff6000","#ff4500","#dd0000","#aa0000","#a00000"]}}}},
{"data":{"name":"one"},"mark":{"type":"text","font":"Liberation Serif","fontSize":16,"color":"#222"},"encoding":{"text":{"field":"t"}}},
{"data":{"values":[{"lon":112.5,"lat":55.8,"t":"T_IN aMAPE of Total Precipitation (%)"}]},"mark":{"type":"text","font":"Liberation Sans","fontWeight":"bold","fontSize":11,"color":"#222"},"encoding":{"text":{"field":"t"}}},
{"data":{"values":[{"lon":78.7,"lat":62.33,"t":"(d)"}]},"mark":{"type":"text","align":"left","font":"Noto Sans","fontWeight":500,"fontSize":18,"color":"#cc3a42"},"encoding":{"text":{"field":"t"}}},
{"data":{"values":[{"lon":76.77,"lon2":86.35,"lat":60.54},{"lon":76.58,"lon2":148.48,"lat":12.97}]},"mark":{"type":"rule","stroke":"#cc3a42","strokeWidth":1.8},"encoding":{"x2":{"field":"lon2"}}}
]},
{"encoding":{"x":{"field":"i","type":"quantitative","scale":{"domain":[-1.55,20.25],"nice":false,"zero":false},"axis":null}},"layer":[
{"data":{"name":"barC"},"mark":{"type":"rect"},"encoding":{"x2":{"field":"i2"},"y":{"datum":17.99,"type":"quantitative","axis":null,"scale":{"domain":[11.34,66.59],"nice":false,"zero":false}},"y2":{"datum":16.68},"color":{"field":"lo","type":"quantitative","legend":null,"scale":{"type":"threshold","domain":[-100,-80,-60,-50,-40,-30,-20,-10,-1,1,10,20,30,40,50,60,80,100],"range":["#6a00a0","#7a00b0","#5e00c0","#4000d8","#2a00f0","#2040ff","#1060ff","#0090ff","#00c8ff","#ffffff","#ffd9b0","#ffbb80","#ff9a50","#ff8030","#ff6000","#ff4500","#dd0000","#aa0000","#a00000"]}}}},
{"data":{"name":"arrC"},"mark":{"type":"point","filled":true,"size":64,"opacity":1,"stroke":"#aaa","strokeWidth":0.4},"encoding":{"y":{"datum":17.34,"type":"quantitative","axis":null,"scale":{"domain":[11.34,66.59],"nice":false,"zero":false}},"shape":{"field":"s","type":"nominal","legend":null,"scale":{"domain":["l","r"],"range":["triangle-left","triangle-right"]}},"color":{"field":"lo","type":"quantitative","legend":null,"scale":{"type":"threshold","domain":[-100,-80,-60,-50,-40,-30,-20,-10,-1,1,10,20,30,40,50,60,80,100],"range":["#6a00a0","#7a00b0","#5e00c0","#4000d8","#2a00f0","#2040ff","#1060ff","#0090ff","#00c8ff","#ffffff","#ffd9b0","#ffbb80","#ff9a50","#ff8030","#ff6000","#ff4500","#dd0000","#aa0000","#a00000"]}}}},
{"data":{"name":"barC"},"mark":{"type":"text","font":"Liberation Serif","fontSize":8,"color":"#666"},"encoding":{"y":{"datum":15.59,"type":"quantitative","axis":null,"scale":{"domain":[11.34,66.59],"nice":false,"zero":false}},"text":{"field":"label"}}}
]}
]},
{"width":426,"height":333,"view":{"stroke":"#000","strokeWidth":1.6},"resolve":{"scale":{"x":"independent","y":"independent"}},"layer":[
{"encoding":{"x":{"field":"lon","type":"quantitative","scale":{"domain":[74.62,157.86],"nice":false,"zero":false},"axis":{"title":null,"values":[90,100,110,120,130],"labelExpr":"datum.value+'°E'","grid":false,"domain":false,"offset":-48.5,"tickSize":-3,"tickColor":"#999","labelFont":"Liberation Sans","labelFontWeight":"bold","labelFontSize":10.5,"labelColor":"#222","labelPadding":7}},"y":{"field":"lat","type":"quantitative","scale":{"domain":[12.05,66.62],"nice":false,"zero":false},"axis":{"title":null,"values":[20,25,30,35,40,45,50],"labelExpr":"datum.value+'°N'","grid":false,"domain":false,"offset":-78.7,"tickSize":-3,"tickColor":"#999","labelFont":"Liberation Sans","labelFontWeight":"bold","labelFontSize":10.5,"labelColor":"#222","labelPadding":7}}},"layer":[
{"data":{"name":"grey"},"mark":{"type":"line","order":false,"stroke":"#bdbdbd","strokeWidth":0.8},"encoding":{"detail":{"field":"g"}}},
{"data":{"name":"prov"},"mark":{"type":"line","order":false,"stroke":"#3a3a3a","strokeWidth":0.7},"encoding":{"detail":{"field":"g"}}},
{"data":{"name":"thick"},"mark":{"type":"line","order":false,"stroke":"#111","strokeWidth":1.4},"encoding":{"detail":{"field":"g"}}},
{"data":{"name":"frame"},"mark":{"type":"rect","fill":null,"stroke":"#c07a7a","strokeWidth":1.2},"encoding":{"x2":{"field":"lon2"},"y2":{"field":"lat2"}}},
{"data":{"name":"boxes"},"mark":{"type":"rect","fill":null,"stroke":"#ff2a2a","strokeWidth":1.4},"encoding":{"x2":{"field":"lon2"},"y2":{"field":"lat2"}}},
{"data":{"name":"stations"},"mark":{"type":"circle","size":40,"opacity":1,"stroke":"#777","strokeWidth":0.5},"encoding":{"color":{"field":"e","type":"quantitative","legend":null,"scale":{"type":"threshold","domain":[-10,-8,-6,-4,-2,-1,-0.5,-0.1,-0.01,0.01,0.1,0.5,1,2,4,6,8,10],"range":["#6a00a0","#7a00b0","#5e00c0","#4000d8","#2a00f0","#2040ff","#1060ff","#0090ff","#00c8ff","#ffffff","#ffd9b0","#ffbb80","#ff9a50","#ff8030","#ff6000","#ff4500","#dd0000","#aa0000","#a00000"]}}}},
{"data":{"name":"one"},"mark":{"type":"text","font":"Liberation Serif","fontSize":16,"color":"#222"},"encoding":{"text":{"field":"t"}}},
{"data":{"values":[{"lon":112.5,"lat":55.8,"t":"T_IN - T_CTL Total Precipitation (mm)"}]},"mark":{"type":"text","font":"Liberation Sans","fontWeight":"bold","fontSize":11,"color":"#222"},"encoding":{"text":{"field":"t"}}},
{"data":{"values":[{"lon":76.77,"lat":62.2,"t":"(e)"}]},"mark":{"type":"text","align":"left","font":"Noto Sans","fontWeight":500,"fontSize":18,"color":"#cc3a42"},"encoding":{"text":{"field":"t"}}},
{"data":{"values":[{"lon":76.77,"lon2":81.66,"lat":60.39},{"lon":76.58,"lon2":148.5,"lat":12.92}]},"mark":{"type":"rule","stroke":"#cc3a42","strokeWidth":1.8},"encoding":{"x2":{"field":"lon2"}}}
]},
{"encoding":{"x":{"field":"i","type":"quantitative","scale":{"domain":[-1.49,20.45],"nice":false,"zero":false},"axis":null}},"layer":[
{"data":{"name":"barE"},"mark":{"type":"rect"},"encoding":{"x2":{"field":"i2"},"y":{"datum":17.84,"type":"quantitative","axis":null,"scale":{"domain":[12.05,66.62],"nice":false,"zero":false}},"y2":{"datum":16.64},"color":{"field":"lo","type":"quantitative","legend":null,"scale":{"type":"threshold","domain":[-10,-8,-6,-4,-2,-1,-0.5,-0.1,-0.01,0.01,0.1,0.5,1,2,4,6,8,10],"range":["#6a00a0","#7a00b0","#5e00c0","#4000d8","#2a00f0","#2040ff","#1060ff","#0090ff","#00c8ff","#ffffff","#ffd9b0","#ffbb80","#ff9a50","#ff8030","#ff6000","#ff4500","#dd0000","#aa0000","#a00000"]}}}},
{"data":{"name":"arrE"},"mark":{"type":"point","filled":true,"size":64,"opacity":1,"stroke":"#aaa","strokeWidth":0.4},"encoding":{"y":{"datum":17.24,"type":"quantitative","axis":null,"scale":{"domain":[12.05,66.62],"nice":false,"zero":false}},"shape":{"field":"s","type":"nominal","legend":null,"scale":{"domain":["l","r"],"range":["triangle-left","triangle-right"]}},"color":{"field":"lo","type":"quantitative","legend":null,"scale":{"type":"threshold","domain":[-10,-8,-6,-4,-2,-1,-0.5,-0.1,-0.01,0.01,0.1,0.5,1,2,4,6,8,10],"range":["#6a00a0","#7a00b0","#5e00c0","#4000d8","#2a00f0","#2040ff","#1060ff","#0090ff","#00c8ff","#ffffff","#ffd9b0","#ffbb80","#ff9a50","#ff8030","#ff6000","#ff4500","#dd0000","#aa0000","#a00000"]}}}},
{"data":{"name":"barE"},"mark":{"type":"text","font":"Liberation Serif","fontSize":9,"color":"#666"},"encoding":{"y":{"datum":15.54,"type":"quantitative","axis":null,"scale":{"domain":[12.05,66.62],"nice":false,"zero":false}},"text":{"field":"label"}}}
]}
]},
{"width":423,"height":333,"view":{"stroke":"#000","strokeWidth":1.6},"resolve":{"scale":{"x":"independent","y":"independent"}},"layer":[
{"encoding":{"x":{"field":"lon","type":"quantitative","scale":{"domain":[74.43,157.08],"nice":false,"zero":false},"axis":{"title":null,"values":[90,100,110,120,130],"labelExpr":"datum.value+'°E'","grid":false,"domain":false,"offset":-48.5,"tickSize":-3,"tickColor":"#999","labelFont":"Liberation Sans","labelFontWeight":"bold","labelFontSize":10.5,"labelColor":"#222","labelPadding":7}},"y":{"field":"lat","type":"quantitative","scale":{"domain":[12.05,66.62],"nice":false,"zero":false},"axis":{"title":null,"values":[20,25,30,35,40,45,50],"labelExpr":"datum.value+'°N'","grid":false,"domain":false,"offset":-79.7,"tickSize":-3,"tickColor":"#999","labelFont":"Liberation Sans","labelFontWeight":"bold","labelFontSize":10.5,"labelColor":"#222","labelPadding":7}}},"layer":[
{"data":{"name":"grey"},"mark":{"type":"line","order":false,"stroke":"#bdbdbd","strokeWidth":0.8},"encoding":{"detail":{"field":"g"}}},
{"data":{"name":"prov"},"mark":{"type":"line","order":false,"stroke":"#3a3a3a","strokeWidth":0.7},"encoding":{"detail":{"field":"g"}}},
{"data":{"name":"thick"},"mark":{"type":"line","order":false,"stroke":"#111","strokeWidth":1.4},"encoding":{"detail":{"field":"g"}}},
{"data":{"name":"frame"},"mark":{"type":"rect","fill":null,"stroke":"#c07a7a","strokeWidth":1.2},"encoding":{"x2":{"field":"lon2"},"y2":{"field":"lat2"}}},
{"data":{"name":"boxes"},"mark":{"type":"rect","fill":null,"stroke":"#ff2a2a","strokeWidth":1.4},"encoding":{"x2":{"field":"lon2"},"y2":{"field":"lat2"}}},
{"data":{"name":"stations"},"mark":{"type":"circle","size":40,"opacity":1,"stroke":"#777","strokeWidth":0.5},"encoding":{"color":{"field":"f","type":"quantitative","legend":null,"scale":{"type":"threshold","domain":[-60,-50,-40,-30,-20,-15,-10,-5,-1,1,5,10,15,20,30,40,50,60],"range":["#6a00a0","#7a00b0","#5e00c0","#4000d8","#2a00f0","#2040ff","#1060ff","#0090ff","#00c8ff","#ffffff","#ffd9b0","#ffbb80","#ff9a50","#ff8030","#ff6000","#ff4500","#dd0000","#aa0000","#a00000"]}}}},
{"data":{"name":"one"},"mark":{"type":"text","font":"Liberation Serif","fontSize":16,"color":"#222"},"encoding":{"text":{"field":"t"}}},
{"data":{"values":[{"lon":112.5,"lat":55.8,"t":"T_IN - T_CTL sMAPE of Total Precipitation (%)"}]},"mark":{"type":"text","font":"Liberation Sans","fontWeight":"bold","fontSize":11,"color":"#222"},"encoding":{"text":{"field":"t"}}},
{"data":{"values":[{"lon":76.77,"lat":62.2,"t":"(f)"}]},"mark":{"type":"text","align":"left","font":"Noto Sans","fontWeight":500,"fontSize":18,"color":"#cc3a42"},"encoding":{"text":{"field":"t"}}},
{"data":{"values":[{"lon":76.77,"lon2":81.86,"lat":60.39},{"lon":76.58,"lon2":148.48,"lat":12.92}]},"mark":{"type":"rule","stroke":"#cc3a42","strokeWidth":1.8},"encoding":{"x2":{"field":"lon2"}}}
]},
{"encoding":{"x":{"field":"i","type":"quantitative","scale":{"domain":[-1.55,20.25],"nice":false,"zero":false},"axis":null}},"layer":[
{"data":{"name":"barF"},"mark":{"type":"rect"},"encoding":{"x2":{"field":"i2"},"y":{"datum":17.84,"type":"quantitative","axis":null,"scale":{"domain":[12.05,66.62],"nice":false,"zero":false}},"y2":{"datum":16.64},"color":{"field":"lo","type":"quantitative","legend":null,"scale":{"type":"threshold","domain":[-60,-50,-40,-30,-20,-15,-10,-5,-1,1,5,10,15,20,30,40,50,60],"range":["#6a00a0","#7a00b0","#5e00c0","#4000d8","#2a00f0","#2040ff","#1060ff","#0090ff","#00c8ff","#ffffff","#ffd9b0","#ffbb80","#ff9a50","#ff8030","#ff6000","#ff4500","#dd0000","#aa0000","#a00000"]}}}},
{"data":{"name":"arrF"},"mark":{"type":"point","filled":true,"size":64,"opacity":1,"stroke":"#aaa","strokeWidth":0.4},"encoding":{"y":{"datum":17.24,"type":"quantitative","axis":null,"scale":{"domain":[12.05,66.62],"nice":false,"zero":false}},"shape":{"field":"s","type":"nominal","legend":null,"scale":{"domain":["l","r"],"range":["triangle-left","triangle-right"]}},"color":{"field":"lo","type":"quantitative","legend":null,"scale":{"type":"threshold","domain":[-60,-50,-40,-30,-20,-15,-10,-5,-1,1,5,10,15,20,30,40,50,60],"range":["#6a00a0","#7a00b0","#5e00c0","#4000d8","#2a00f0","#2040ff","#1060ff","#0090ff","#00c8ff","#ffffff","#ffd9b0","#ffbb80","#ff9a50","#ff8030","#ff6000","#ff4500","#dd0000","#aa0000","#a00000"]}}}},
{"data":{"name":"barF"},"mark":{"type":"text","font":"Liberation Serif","fontSize":8,"color":"#666"},"encoding":{"y":{"datum":15.54,"type":"quantitative","axis":null,"scale":{"domain":[12.05,66.62],"nice":false,"zero":false}},"text":{"field":"label"}}}
]}
]}
]}
